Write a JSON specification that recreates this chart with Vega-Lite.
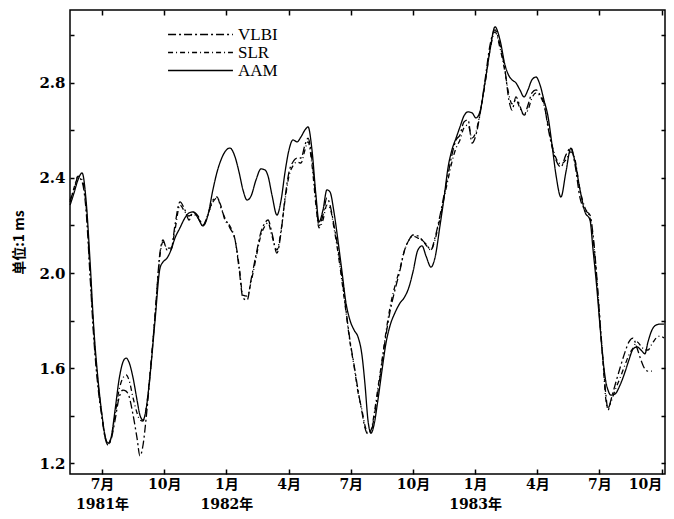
{
  "$schema": "https://vega.github.io/schema/vega-lite/v6.json",
  "width": 595,
  "height": 464,
  "autosize": "none",
  "padding": {"left": 70, "top": 10, "right": 9, "bottom": 45},
  "background": "white",
  "config": {
    "view": {"stroke": "black", "strokeWidth": 1.5},
    "axis": {"grid": false, "domain": false, "labelFont": "DejaVu Serif, Noto Sans CJK SC", "labelFontSize": 14, "labelFontWeight": "bold", "labelColor": "black", "tickColor": "black", "tickWidth": 1.5}
  },
  "data": {"values": [
    {"t":4.46,"series":"AAM","v":2.286},{"t":4.65,"series":"AAM","v":2.337},{"t":4.84,"series":"AAM","v":2.392},{"t":5.04,"series":"AAM","v":2.421},{"t":5.23,"series":"AAM","v":2.307},{"t":5.42,"series":"AAM","v":2.055},{"t":5.61,"series":"AAM","v":1.760},{"t":5.81,"series":"AAM","v":1.550},{"t":6.00,"series":"AAM","v":1.402},{"t":6.14,"series":"AAM","v":1.318},{"t":6.29,"series":"AAM","v":1.284},{"t":6.43,"series":"AAM","v":1.305},{"t":6.63,"series":"AAM","v":1.423},{"t":6.82,"series":"AAM","v":1.550},{"t":7.01,"series":"AAM","v":1.625},{"t":7.16,"series":"AAM","v":1.642},{"t":7.30,"series":"AAM","v":1.625},{"t":7.50,"series":"AAM","v":1.558},{"t":7.69,"series":"AAM","v":1.465},{"t":7.83,"series":"AAM","v":1.402},{"t":7.98,"series":"AAM","v":1.381},{"t":8.12,"series":"AAM","v":1.423},{"t":8.32,"series":"AAM","v":1.571},{"t":8.56,"series":"AAM","v":1.802},{"t":8.80,"series":"AAM","v":2.021},{"t":8.94,"series":"AAM","v":2.046},{"t":9.14,"series":"AAM","v":2.063},{"t":9.33,"series":"AAM","v":2.097},{"t":9.52,"series":"AAM","v":2.147},{"t":9.76,"series":"AAM","v":2.190},{"t":10.00,"series":"AAM","v":2.232},{"t":10.20,"series":"AAM","v":2.253},{"t":10.39,"series":"AAM","v":2.257},{"t":10.63,"series":"AAM","v":2.232},{"t":10.87,"series":"AAM","v":2.198},{"t":11.11,"series":"AAM","v":2.244},{"t":11.35,"series":"AAM","v":2.350},{"t":11.55,"series":"AAM","v":2.425},{"t":11.74,"series":"AAM","v":2.476},{"t":11.93,"series":"AAM","v":2.510},{"t":12.17,"series":"AAM","v":2.526},{"t":12.42,"series":"AAM","v":2.488},{"t":12.61,"series":"AAM","v":2.425},{"t":12.80,"series":"AAM","v":2.350},{"t":13.00,"series":"AAM","v":2.307},{"t":13.19,"series":"AAM","v":2.324},{"t":13.43,"series":"AAM","v":2.392},{"t":13.67,"series":"AAM","v":2.438},{"t":13.86,"series":"AAM","v":2.434},{"t":14.01,"series":"AAM","v":2.408},{"t":14.20,"series":"AAM","v":2.328},{"t":14.44,"series":"AAM","v":2.244},{"t":14.64,"series":"AAM","v":2.307},{"t":14.83,"series":"AAM","v":2.425},{"t":15.02,"series":"AAM","v":2.518},{"t":15.21,"series":"AAM","v":2.560},{"t":15.41,"series":"AAM","v":2.552},{"t":15.60,"series":"AAM","v":2.573},{"t":15.79,"series":"AAM","v":2.602},{"t":15.94,"series":"AAM","v":2.615},{"t":16.13,"series":"AAM","v":2.518},{"t":16.32,"series":"AAM","v":2.328},{"t":16.47,"series":"AAM","v":2.215},{"t":16.66,"series":"AAM","v":2.265},{"t":16.85,"series":"AAM","v":2.350},{"t":17.00,"series":"AAM","v":2.341},{"t":17.19,"series":"AAM","v":2.257},{"t":17.38,"series":"AAM","v":2.139},{"t":17.58,"series":"AAM","v":2.004},{"t":17.77,"series":"AAM","v":1.874},{"t":17.96,"series":"AAM","v":1.802},{"t":18.16,"series":"AAM","v":1.760},{"t":18.35,"series":"AAM","v":1.731},{"t":18.54,"series":"AAM","v":1.655},{"t":18.69,"series":"AAM","v":1.528},{"t":18.83,"series":"AAM","v":1.381},{"t":18.98,"series":"AAM","v":1.326},{"t":19.12,"series":"AAM","v":1.360},{"t":19.31,"series":"AAM","v":1.465},{"t":19.51,"series":"AAM","v":1.592},{"t":19.70,"series":"AAM","v":1.705},{"t":19.89,"series":"AAM","v":1.777},{"t":20.13,"series":"AAM","v":1.832},{"t":20.38,"series":"AAM","v":1.874},{"t":20.57,"series":"AAM","v":1.895},{"t":20.81,"series":"AAM","v":1.941},{"t":21.00,"series":"AAM","v":2.004},{"t":21.24,"series":"AAM","v":2.097},{"t":21.44,"series":"AAM","v":2.114},{"t":21.63,"series":"AAM","v":2.072},{"t":21.87,"series":"AAM","v":2.025},{"t":22.06,"series":"AAM","v":2.063},{"t":22.31,"series":"AAM","v":2.202},{"t":22.50,"series":"AAM","v":2.316},{"t":22.69,"series":"AAM","v":2.442},{"t":22.88,"series":"AAM","v":2.518},{"t":23.08,"series":"AAM","v":2.568},{"t":23.27,"series":"AAM","v":2.615},{"t":23.46,"series":"AAM","v":2.661},{"t":23.66,"series":"AAM","v":2.678},{"t":23.85,"series":"AAM","v":2.674},{"t":24.04,"series":"AAM","v":2.653},{"t":24.23,"series":"AAM","v":2.678},{"t":24.48,"series":"AAM","v":2.804},{"t":24.72,"series":"AAM","v":2.939},{"t":24.96,"series":"AAM","v":3.036},{"t":25.20,"series":"AAM","v":2.981},{"t":25.44,"series":"AAM","v":2.876},{"t":25.63,"series":"AAM","v":2.830},{"t":25.78,"series":"AAM","v":2.813},{"t":25.97,"series":"AAM","v":2.800},{"t":26.16,"series":"AAM","v":2.771},{"t":26.36,"series":"AAM","v":2.741},{"t":26.55,"series":"AAM","v":2.771},{"t":26.74,"series":"AAM","v":2.813},{"t":26.94,"series":"AAM","v":2.825},{"t":27.13,"series":"AAM","v":2.792},{"t":27.32,"series":"AAM","v":2.728},{"t":27.52,"series":"AAM","v":2.657},{"t":27.71,"series":"AAM","v":2.539},{"t":27.90,"series":"AAM","v":2.413},{"t":28.14,"series":"AAM","v":2.320},{"t":28.38,"series":"AAM","v":2.425},{"t":28.62,"series":"AAM","v":2.526},{"t":28.82,"series":"AAM","v":2.467},{"t":29.06,"series":"AAM","v":2.350},{"t":29.30,"series":"AAM","v":2.257},{"t":29.54,"series":"AAM","v":2.223},{"t":29.69,"series":"AAM","v":2.097},{"t":29.88,"series":"AAM","v":1.928},{"t":30.02,"series":"AAM","v":1.781},{"t":30.17,"series":"AAM","v":1.634},{"t":30.31,"series":"AAM","v":1.541},{"t":30.41,"series":"AAM","v":1.507},{"t":30.55,"series":"AAM","v":1.486},{"t":30.75,"series":"AAM","v":1.491},{"t":30.99,"series":"AAM","v":1.528},{"t":31.23,"series":"AAM","v":1.583},{"t":31.42,"series":"AAM","v":1.634},{"t":31.62,"series":"AAM","v":1.680},{"t":31.81,"series":"AAM","v":1.689},{"t":32.00,"series":"AAM","v":1.676},{"t":32.19,"series":"AAM","v":1.660},{"t":32.34,"series":"AAM","v":1.710},{"t":32.53,"series":"AAM","v":1.760},{"t":32.73,"series":"AAM","v":1.781},{"t":32.92,"series":"AAM","v":1.785},{"t":33.11,"series":"AAM","v":1.785},
    {"t":4.46,"series":"VLBI","v":2.307},{"t":4.65,"series":"VLBI","v":2.350},{"t":4.84,"series":"VLBI","v":2.404},{"t":5.04,"series":"VLBI","v":2.383},{"t":5.23,"series":"VLBI","v":2.265},{"t":5.42,"series":"VLBI","v":1.992},{"t":5.61,"series":"VLBI","v":1.718},{"t":5.81,"series":"VLBI","v":1.516},{"t":6.00,"series":"VLBI","v":1.390},{"t":6.14,"series":"VLBI","v":1.310},{"t":6.29,"series":"VLBI","v":1.276},{"t":6.43,"series":"VLBI","v":1.297},{"t":6.63,"series":"VLBI","v":1.381},{"t":6.82,"series":"VLBI","v":1.474},{"t":7.01,"series":"VLBI","v":1.507},{"t":7.16,"series":"VLBI","v":1.503},{"t":7.30,"series":"VLBI","v":1.482},{"t":7.50,"series":"VLBI","v":1.402},{"t":7.69,"series":"VLBI","v":1.305},{"t":7.83,"series":"VLBI","v":1.230},{"t":7.98,"series":"VLBI","v":1.276},{"t":8.12,"series":"VLBI","v":1.381},{"t":8.32,"series":"VLBI","v":1.571},{"t":8.56,"series":"VLBI","v":1.823},{"t":8.80,"series":"VLBI","v":2.088},{"t":8.94,"series":"VLBI","v":2.139},{"t":9.14,"series":"VLBI","v":2.097},{"t":9.33,"series":"VLBI","v":2.097},{"t":9.52,"series":"VLBI","v":2.202},{"t":9.76,"series":"VLBI","v":2.299},{"t":10.00,"series":"VLBI","v":2.265},{"t":10.20,"series":"VLBI","v":2.223},{"t":10.39,"series":"VLBI","v":2.257},{"t":10.63,"series":"VLBI","v":2.240},{"t":10.87,"series":"VLBI","v":2.202},{"t":11.11,"series":"VLBI","v":2.244},{"t":11.35,"series":"VLBI","v":2.307},{"t":11.55,"series":"VLBI","v":2.320},{"t":11.74,"series":"VLBI","v":2.274},{"t":11.93,"series":"VLBI","v":2.232},{"t":12.17,"series":"VLBI","v":2.190},{"t":12.42,"series":"VLBI","v":2.139},{"t":12.61,"series":"VLBI","v":2.021},{"t":12.80,"series":"VLBI","v":1.895},{"t":13.00,"series":"VLBI","v":1.886},{"t":13.19,"series":"VLBI","v":1.971},{"t":13.43,"series":"VLBI","v":2.076},{"t":13.67,"series":"VLBI","v":2.173},{"t":13.86,"series":"VLBI","v":2.211},{"t":14.01,"series":"VLBI","v":2.223},{"t":14.20,"series":"VLBI","v":2.168},{"t":14.44,"series":"VLBI","v":2.084},{"t":14.64,"series":"VLBI","v":2.173},{"t":14.83,"series":"VLBI","v":2.316},{"t":15.02,"series":"VLBI","v":2.425},{"t":15.21,"series":"VLBI","v":2.467},{"t":15.41,"series":"VLBI","v":2.484},{"t":15.60,"series":"VLBI","v":2.484},{"t":15.79,"series":"VLBI","v":2.539},{"t":15.94,"series":"VLBI","v":2.568},{"t":16.13,"series":"VLBI","v":2.476},{"t":16.32,"series":"VLBI","v":2.307},{"t":16.47,"series":"VLBI","v":2.198},{"t":16.66,"series":"VLBI","v":2.244},{"t":16.85,"series":"VLBI","v":2.316},{"t":17.00,"series":"VLBI","v":2.286},{"t":17.19,"series":"VLBI","v":2.202},{"t":17.38,"series":"VLBI","v":2.105},{"t":17.58,"series":"VLBI","v":1.979},{"t":17.77,"series":"VLBI","v":1.844},{"t":17.96,"series":"VLBI","v":1.718},{"t":18.16,"series":"VLBI","v":1.613},{"t":18.35,"series":"VLBI","v":1.507},{"t":18.54,"series":"VLBI","v":1.415},{"t":18.69,"series":"VLBI","v":1.347},{"t":18.83,"series":"VLBI","v":1.322},{"t":18.98,"series":"VLBI","v":1.331},{"t":19.12,"series":"VLBI","v":1.390},{"t":19.31,"series":"VLBI","v":1.499},{"t":19.51,"series":"VLBI","v":1.625},{"t":19.70,"series":"VLBI","v":1.739},{"t":19.89,"series":"VLBI","v":1.836},{"t":20.13,"series":"VLBI","v":1.928},{"t":20.38,"series":"VLBI","v":2.013},{"t":20.57,"series":"VLBI","v":2.088},{"t":20.81,"series":"VLBI","v":2.139},{"t":21.00,"series":"VLBI","v":2.160},{"t":21.24,"series":"VLBI","v":2.156},{"t":21.44,"series":"VLBI","v":2.139},{"t":21.63,"series":"VLBI","v":2.122},{"t":21.87,"series":"VLBI","v":2.097},{"t":22.06,"series":"VLBI","v":2.147},{"t":22.31,"series":"VLBI","v":2.244},{"t":22.50,"series":"VLBI","v":2.328},{"t":22.69,"series":"VLBI","v":2.413},{"t":22.88,"series":"VLBI","v":2.497},{"t":23.08,"series":"VLBI","v":2.560},{"t":23.27,"series":"VLBI","v":2.581},{"t":23.46,"series":"VLBI","v":2.636},{"t":23.66,"series":"VLBI","v":2.644},{"t":23.85,"series":"VLBI","v":2.547},{"t":24.04,"series":"VLBI","v":2.581},{"t":24.23,"series":"VLBI","v":2.665},{"t":24.48,"series":"VLBI","v":2.813},{"t":24.72,"series":"VLBI","v":2.960},{"t":24.96,"series":"VLBI","v":3.023},{"t":25.20,"series":"VLBI","v":2.960},{"t":25.44,"series":"VLBI","v":2.855},{"t":25.63,"series":"VLBI","v":2.728},{"t":25.78,"series":"VLBI","v":2.686},{"t":25.97,"series":"VLBI","v":2.741},{"t":26.16,"series":"VLBI","v":2.703},{"t":26.36,"series":"VLBI","v":2.665},{"t":26.55,"series":"VLBI","v":2.707},{"t":26.74,"series":"VLBI","v":2.758},{"t":26.94,"series":"VLBI","v":2.771},{"t":27.13,"series":"VLBI","v":2.750},{"t":27.32,"series":"VLBI","v":2.716},{"t":27.52,"series":"VLBI","v":2.611},{"t":27.71,"series":"VLBI","v":2.531},{"t":27.90,"series":"VLBI","v":2.476},{"t":28.14,"series":"VLBI","v":2.446},{"t":28.38,"series":"VLBI","v":2.497},{"t":28.62,"series":"VLBI","v":2.526},{"t":28.82,"series":"VLBI","v":2.455},{"t":29.06,"series":"VLBI","v":2.316},{"t":29.30,"series":"VLBI","v":2.265},{"t":29.54,"series":"VLBI","v":2.244},{"t":29.69,"series":"VLBI","v":2.160},{"t":29.88,"series":"VLBI","v":1.971},{"t":30.02,"series":"VLBI","v":1.802},{"t":30.17,"series":"VLBI","v":1.634},{"t":30.31,"series":"VLBI","v":1.486},{"t":30.41,"series":"VLBI","v":1.423},{"t":30.55,"series":"VLBI","v":1.465},{"t":30.75,"series":"VLBI","v":1.528},{"t":30.99,"series":"VLBI","v":1.600},{"t":31.23,"series":"VLBI","v":1.667},{"t":31.42,"series":"VLBI","v":1.710},{"t":31.62,"series":"VLBI","v":1.726},{"t":31.81,"series":"VLBI","v":1.684},{"t":32.00,"series":"VLBI","v":1.634},{"t":32.19,"series":"VLBI","v":1.596},{"t":32.34,"series":"VLBI","v":1.587},{"t":32.53,"series":"VLBI","v":1.587},
    {"t":4.46,"series":"SLR","v":2.299},{"t":4.65,"series":"SLR","v":2.358},{"t":4.84,"series":"SLR","v":2.408},{"t":5.04,"series":"SLR","v":2.392},{"t":5.23,"series":"SLR","v":2.286},{"t":5.42,"series":"SLR","v":2.013},{"t":5.61,"series":"SLR","v":1.739},{"t":5.81,"series":"SLR","v":1.533},{"t":6.00,"series":"SLR","v":1.398},{"t":6.14,"series":"SLR","v":1.314},{"t":6.29,"series":"SLR","v":1.280},{"t":6.43,"series":"SLR","v":1.301},{"t":6.63,"series":"SLR","v":1.402},{"t":6.82,"series":"SLR","v":1.507},{"t":7.01,"series":"SLR","v":1.558},{"t":7.16,"series":"SLR","v":1.571},{"t":7.30,"series":"SLR","v":1.550},{"t":7.50,"series":"SLR","v":1.474},{"t":7.69,"series":"SLR","v":1.411},{"t":7.83,"series":"SLR","v":1.381},{"t":7.98,"series":"SLR","v":1.377},{"t":8.12,"series":"SLR","v":1.423},{"t":8.32,"series":"SLR","v":1.579},{"t":8.56,"series":"SLR","v":1.823},{"t":8.80,"series":"SLR","v":2.076},{"t":8.94,"series":"SLR","v":2.131},{"t":9.14,"series":"SLR","v":2.105},{"t":9.33,"series":"SLR","v":2.105},{"t":9.52,"series":"SLR","v":2.181},{"t":9.76,"series":"SLR","v":2.286},{"t":10.00,"series":"SLR","v":2.257},{"t":10.20,"series":"SLR","v":2.240},{"t":10.39,"series":"SLR","v":2.248},{"t":10.63,"series":"SLR","v":2.232},{"t":10.87,"series":"SLR","v":2.198},{"t":11.11,"series":"SLR","v":2.248},{"t":11.35,"series":"SLR","v":2.299},{"t":11.55,"series":"SLR","v":2.316},{"t":11.74,"series":"SLR","v":2.282},{"t":11.93,"series":"SLR","v":2.223},{"t":12.17,"series":"SLR","v":2.198},{"t":12.42,"series":"SLR","v":2.139},{"t":12.61,"series":"SLR","v":2.034},{"t":12.80,"series":"SLR","v":1.907},{"t":13.00,"series":"SLR","v":1.903},{"t":13.19,"series":"SLR","v":1.962},{"t":13.43,"series":"SLR","v":2.063},{"t":13.67,"series":"SLR","v":2.160},{"t":13.86,"series":"SLR","v":2.198},{"t":14.01,"series":"SLR","v":2.211},{"t":14.20,"series":"SLR","v":2.156},{"t":14.44,"series":"SLR","v":2.097},{"t":14.64,"series":"SLR","v":2.181},{"t":14.83,"series":"SLR","v":2.307},{"t":15.02,"series":"SLR","v":2.408},{"t":15.21,"series":"SLR","v":2.451},{"t":15.41,"series":"SLR","v":2.467},{"t":15.60,"series":"SLR","v":2.463},{"t":15.79,"series":"SLR","v":2.518},{"t":15.94,"series":"SLR","v":2.552},{"t":16.13,"series":"SLR","v":2.455},{"t":16.32,"series":"SLR","v":2.286},{"t":16.47,"series":"SLR","v":2.190},{"t":16.66,"series":"SLR","v":2.223},{"t":16.85,"series":"SLR","v":2.286},{"t":17.00,"series":"SLR","v":2.274},{"t":17.19,"series":"SLR","v":2.190},{"t":17.38,"series":"SLR","v":2.088},{"t":17.58,"series":"SLR","v":1.962},{"t":17.77,"series":"SLR","v":1.836},{"t":17.96,"series":"SLR","v":1.710},{"t":18.16,"series":"SLR","v":1.608},{"t":18.35,"series":"SLR","v":1.499},{"t":18.54,"series":"SLR","v":1.423},{"t":18.69,"series":"SLR","v":1.356},{"t":18.83,"series":"SLR","v":1.326},{"t":18.98,"series":"SLR","v":1.339},{"t":19.12,"series":"SLR","v":1.402},{"t":19.31,"series":"SLR","v":1.516},{"t":19.51,"series":"SLR","v":1.634},{"t":19.70,"series":"SLR","v":1.752},{"t":19.89,"series":"SLR","v":1.853},{"t":20.13,"series":"SLR","v":1.945},{"t":20.38,"series":"SLR","v":2.021},{"t":20.57,"series":"SLR","v":2.088},{"t":20.81,"series":"SLR","v":2.139},{"t":21.00,"series":"SLR","v":2.156},{"t":21.24,"series":"SLR","v":2.147},{"t":21.44,"series":"SLR","v":2.139},{"t":21.63,"series":"SLR","v":2.118},{"t":21.87,"series":"SLR","v":2.097},{"t":22.06,"series":"SLR","v":2.139},{"t":22.31,"series":"SLR","v":2.232},{"t":22.50,"series":"SLR","v":2.316},{"t":22.69,"series":"SLR","v":2.392},{"t":22.88,"series":"SLR","v":2.467},{"t":23.08,"series":"SLR","v":2.526},{"t":23.27,"series":"SLR","v":2.560},{"t":23.46,"series":"SLR","v":2.611},{"t":23.66,"series":"SLR","v":2.623},{"t":23.85,"series":"SLR","v":2.568},{"t":24.04,"series":"SLR","v":2.594},{"t":24.23,"series":"SLR","v":2.670},{"t":24.48,"series":"SLR","v":2.796},{"t":24.72,"series":"SLR","v":2.939},{"t":24.96,"series":"SLR","v":3.015},{"t":25.20,"series":"SLR","v":2.947},{"t":25.44,"series":"SLR","v":2.846},{"t":25.63,"series":"SLR","v":2.750},{"t":25.78,"series":"SLR","v":2.712},{"t":25.97,"series":"SLR","v":2.728},{"t":26.16,"series":"SLR","v":2.695},{"t":26.36,"series":"SLR","v":2.665},{"t":26.55,"series":"SLR","v":2.686},{"t":26.74,"series":"SLR","v":2.737},{"t":26.94,"series":"SLR","v":2.758},{"t":27.13,"series":"SLR","v":2.745},{"t":27.32,"series":"SLR","v":2.707},{"t":27.52,"series":"SLR","v":2.623},{"t":27.71,"series":"SLR","v":2.539},{"t":27.90,"series":"SLR","v":2.484},{"t":28.14,"series":"SLR","v":2.459},{"t":28.38,"series":"SLR","v":2.476},{"t":28.62,"series":"SLR","v":2.510},{"t":28.82,"series":"SLR","v":2.476},{"t":29.06,"series":"SLR","v":2.350},{"t":29.30,"series":"SLR","v":2.274},{"t":29.54,"series":"SLR","v":2.232},{"t":29.69,"series":"SLR","v":2.147},{"t":29.88,"series":"SLR","v":1.958},{"t":30.02,"series":"SLR","v":1.794},{"t":30.17,"series":"SLR","v":1.625},{"t":30.31,"series":"SLR","v":1.465},{"t":30.41,"series":"SLR","v":1.432},{"t":30.55,"series":"SLR","v":1.457},{"t":30.75,"series":"SLR","v":1.507},{"t":30.99,"series":"SLR","v":1.558},{"t":31.23,"series":"SLR","v":1.613},{"t":31.42,"series":"SLR","v":1.655},{"t":31.62,"series":"SLR","v":1.684},{"t":31.81,"series":"SLR","v":1.710},{"t":32.00,"series":"SLR","v":1.693},{"t":32.19,"series":"SLR","v":1.676},{"t":32.34,"series":"SLR","v":1.676},{"t":32.53,"series":"SLR","v":1.701},{"t":32.73,"series":"SLR","v":1.726},{"t":32.92,"series":"SLR","v":1.735},{"t":33.11,"series":"SLR","v":1.726}
  ]},
  "layer": [
    {
      "mark": {"type": "line", "color": "black", "strokeWidth": 1.3, "interpolate": "monotone"},
      "encoding": {
        "x": {
          "field": "t", "type": "quantitative",
          "scale": {"domain": [4.456, 33.16], "nice": false, "zero": false},
          "axis": {
            "orient": "bottom", "title": null,
            "values": [6, 9, 12, 15, 18, 21, 24, 27, 30, 33],
            "tickSize": -5, "labelPadding": 8, "labelLineHeight": 20, "labelBaseline": "top", "labelFlush": 5,
            "labelExpr": "[(datum.value % 12 + 1) + '月', datum.value == 6 ? '1981年' : datum.value == 12 ? '1982年' : datum.value == 24 ? '1983年' : '']"
          }
        },
        "y": {
          "field": "v", "type": "quantitative",
          "scale": {"domain": [1.154, 3.107], "nice": false, "zero": false},
          "axis": {
            "orient": "left",
            "title": "单位:1 ms",
            "titleFont": "Noto Sans CJK SC", "titleFontSize": 14, "titleFontWeight": "bold", "titleColor": "black", "titlePadding": 12,
            "values": [1.2, 1.4, 1.6, 1.8, 2.0, 2.2, 2.4, 2.6, 2.8, 3.0],
            "tickSize": -4, "labelPadding": 9, "labelFontSize": 15,
            "labelExpr": "round(datum.value * 10) % 4 == 0 ? format(datum.value, '.1f') : ''"
          }
        },
        "strokeDash": {
          "field": "series", "type": "nominal",
          "scale": {"domain": ["VLBI", "SLR", "AAM"], "range": [[8, 3, 2, 3], [5, 3, 1, 3], [1, 0]]},
          "legend": {
            "orient": "none", "legendX": 122, "legendY": 16, "title": null,
            "symbolType": "M-6,0H6", "symbolSize": 117, "symbolStrokeColor": "black", "symbolFillColor": "transparent", "symbolStrokeWidth": 1.4,
            "labelFont": "Liberation Serif", "labelFontSize": 17, "labelColor": "black", "labelOffset": 29, "rowPadding": 0
          }
        }
      }
    },
    {
      "mark": {"type": "line", "opacity": 0},
      "encoding": {
        "x": {"field": "t", "type": "quantitative", "scale": {"domain": [4.456, 33.16], "nice": false, "zero": false},
          "axis": {"orient": "top", "title": null, "labels": false, "values": [6, 9, 12, 15, 18, 21, 24, 27, 30, 33], "tickSize": -5}},
        "y": {"field": "v", "type": "quantitative", "scale": {"domain": [1.154, 3.107], "nice": false, "zero": false},
          "axis": {"orient": "right", "title": null, "labels": false, "values": [1.2, 1.4, 1.6, 1.8, 2.0, 2.2, 2.4, 2.6, 2.8, 3.0], "tickSize": -4}}
      }
    }
  ],
  "resolve": {"axis": {"x": "independent", "y": "independent"}}
}
